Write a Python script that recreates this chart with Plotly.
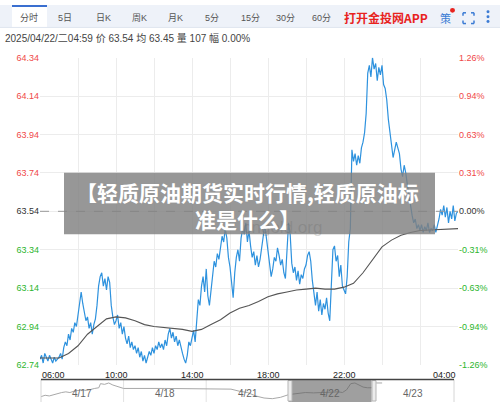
import pandas as pd
import plotly.graph_objects as go

W, H = 500, 407

prev_close = 63.54

# 5-minute prices from 06:00 to 04:00 (one row per hour)
price = [
    62.77, 62.79, 62.75, 62.80, 62.78, 62.76, 62.79, 62.77, 62.75, 62.78, 62.76, 62.77,
    62.78, 62.80, 62.77, 62.83, 62.86, 62.84, 62.90, 62.87, 62.93, 62.91, 62.96, 62.94,
    63.00, 63.08, 63.12, 63.06, 63.02, 62.97, 62.99, 62.93, 62.96, 62.90, 62.95, 62.98,
    63.05, 63.15, 63.20, 63.22, 63.15, 63.19, 63.13, 63.20, 63.17, 63.05, 62.99, 62.95,
    62.97, 63.00, 62.93, 62.96, 62.90, 62.94, 62.88, 62.85, 62.89, 62.83, 62.86, 62.82,
    62.84, 62.80, 62.83, 62.78, 62.81, 62.76, 62.79, 62.75, 62.78, 62.81, 62.79, 62.83,
    62.80, 62.84, 62.82, 62.86, 62.83, 62.85, 62.82, 62.87, 62.84, 62.90, 62.93, 62.88,
    62.91, 62.86, 62.89, 62.84, 62.87, 62.83, 62.80, 62.77, 62.75, 62.79, 62.86, 62.84,
    62.88, 62.92, 62.86, 62.95, 63.08, 63.05, 63.15, 63.20, 63.12, 63.24, 63.10, 63.05,
    63.12, 63.22, 63.28, 63.25, 63.32, 63.29, 63.35, 63.41, 63.38, 63.45, 63.40, 63.30,
    63.25, 63.18, 63.09, 63.22, 63.30, 63.34, 63.28, 63.40, 63.45, 63.42, 63.48, 63.38,
    63.44, 63.36, 63.30, 63.33, 63.26, 63.31, 63.25, 63.29, 63.36, 63.42, 63.47, 63.40,
    63.33, 63.27, 63.20, 63.24, 63.30, 63.28, 63.35, 63.31, 63.26, 63.29, 63.22, 63.19,
    63.35, 63.48, 63.42, 63.27, 63.22, 63.25, 63.18, 63.23, 63.16, 63.21, 63.19, 63.24,
    63.26, 63.31, 63.33, 63.28, 63.18, 63.10, 63.05, 63.12, 63.02, 63.08, 63.00, 63.06,
    63.03, 63.09, 63.01, 62.97, 63.12, 63.34, 63.36, 63.28, 63.31, 63.20, 63.26, 63.15,
    63.13, 63.11, 63.20, 63.38, 63.45, 63.86, 63.80, 63.84, 63.78, 63.83, 63.79, 63.87,
    63.90, 63.95, 64.05, 64.26, 64.30, 64.24, 64.34, 64.28, 64.31, 64.22, 64.29, 64.25,
    64.30, 64.20, 64.18, 64.12, 64.02, 63.95, 63.88, 63.82, 63.86, 63.90, 63.87, 63.84,
    63.76, 63.72, 63.78, 63.74, 63.68, 63.62, 63.58, 63.52, 63.48, 63.50, 63.45, 63.47,
    63.44, 63.47, 63.43, 63.46, 63.44, 63.48, 63.43, 63.45, 63.44, 63.47, 63.43, 63.46,
    63.50, 63.55, 63.52, 63.57, 63.51, 63.56, 63.48, 63.54, 63.50, 63.57, 63.49, 63.53,
    63.54,
]

# 30-minute average price
avg_price = [
    62.776, 62.776, 62.776, 62.80, 62.84, 62.90, 62.94, 62.98, 62.99, 62.985,
    62.97, 62.95, 62.94, 62.935, 62.93, 62.925, 62.915, 62.925, 62.95, 62.975,
    63.01, 63.035, 63.05, 63.07, 63.095, 63.11, 63.12, 63.13, 63.135, 63.14,
    63.135, 63.135, 63.145, 63.165, 63.22, 63.29, 63.355, 63.39, 63.415, 63.43,
    63.44, 63.443, 63.445, 63.447, 63.45,
]

levels = [62.74, 62.94, 63.14, 63.34, 63.54, 63.74, 63.94, 64.14, 64.34]
pct_labels = ["-1.26%", "-0.94%", "-0.63%", "-0.31%", "0.00%",
              "0.31%", "0.63%", "0.94%", "1.26%"]
time_labels = ["06:00", "10:00", "14:00", "18:00", "22:00", "04:00"]
time_hours = [0, 4, 8, 12, 16, 22]

tabs = ["分时", "5日", "日K", "周K", "月K", "5分", "15分", "30分", "60分"]
tab_x = [29, 65, 103, 139, 175, 212, 250, 285, 321]

nav_days = ["4/17", "4/18", "4/21", "4/22", "4/23"]
nav_t = [0.0, 0.05, 0.1, 0.15, 0.2, 0.25, 0.3, 0.35, 0.4, 0.45, 0.5, 0.55, 0.6,
         0.65, 0.7, 0.72, 0.77, 0.82, 0.87, 0.92, 0.97, 1.0, 1.5, 2.0,
         2.1, 2.2, 2.3, 2.4, 2.5, 2.6, 2.7, 2.8, 2.9, 3.0,
         3.1, 3.2, 3.3, 3.4, 3.5, 3.6, 3.65, 3.7, 3.75, 3.8, 3.85, 3.9, 3.95, 4.0,
         4.06, 4.1, 4.13]
nav_v = [62.3, 62.5, 62.4, 62.6, 62.8, 62.9, 63.0, 62.9, 63.1, 63.2, 63.3, 63.2, 63.4,
         63.5, 63.6, 64.2, 64.1, 64.3, 64.0, 63.8, 63.6, 63.5, 63.5, 63.5,
         63.5, 63.5, 63.4, 63.1, 62.9, 62.4, 62.1, 62.0, 62.2, 62.6,
         62.8, 62.9, 62.85, 62.9, 62.95, 63.0, 62.9, 63.3, 64.2, 64.3, 64.0, 63.7, 63.6, 63.6,
         64.3, 64.25, 64.3]

start = pd.Timestamp("2025-04-21 06:00")
end = start + pd.Timedelta(hours=22)
t_price = pd.date_range(start, periods=len(price), freq="5min")
t_avg = pd.date_range(start, periods=len(avg_price), freq="30min")

RED, GREEN, DARK = "#f04848", "#2db52d", "#333333"
FONT = "Liberation Sans, Arial, Noto Sans CJK SC, sans-serif"
CJK = "Noto Sans CJK SC, sans-serif"


def px(x):
    return x / W


def py(y):
    return 1 - y / H


def lvl_color(v):
    if abs(v - prev_close) < 1e-9:
        return DARK
    return RED if v > prev_close else GREEN


def label(text, x, y, size, color, family=FONT, xanchor="center", xref="paper"):
    return dict(text=text, x=x, y=y, xref=xref, yref="paper", xanchor=xanchor, yanchor="middle",
                showarrow=False, font=dict(family=family, size=size, color=color))


left_text = [f'<span style="color:{lvl_color(v)}">{v:.2f}</span>' for v in levels]
right_text = [f'<span style="color:{lvl_color(v)}">{p}</span>' for v, p in zip(levels, pct_labels)]

fig = go.Figure()
fig.add_trace(go.Scatter(x=t_price, y=price, mode="lines",
                         line=dict(color="#2e92de", width=1.2), hoverinfo="skip"))
fig.add_trace(go.Scatter(x=t_avg, y=avg_price, mode="lines",
                         line=dict(color="#555555", width=1.1), hoverinfo="skip"))
fig.add_trace(go.Scatter(x=[start, end], y=[prev_close, prev_close], mode="lines",
                         yaxis="y3", line=dict(color="#999999", width=1, dash="dash"),
                         hoverinfo="skip"))
fig.add_trace(go.Scatter(x=nav_t, y=nav_v, mode="lines", xaxis="x2", yaxis="y2",
                         line=dict(color="#a8a8a8", width=1), hoverinfo="skip"))

shapes = []
# toolbar
shapes.append(dict(type="rect", xref="paper", yref="paper", x0=0, x1=1, y0=py(23), y1=1,
                   fillcolor="#eef2f9", line_width=0, layer="below"))
shapes.append(dict(type="line", xref="paper", yref="paper", x0=0, x1=1, y0=py(23), y1=py(23),
                   line=dict(color="#dfe5ef", width=1)))
shapes.append(dict(type="rect", xref="paper", yref="paper", x0=px(12), x1=px(47), y0=py(23), y1=1,
                   fillcolor="white", line_width=0, layer="below"))
shapes.append(dict(type="line", xref="paper", yref="paper", x0=px(12), x1=px(47), y0=py(1), y1=py(1),
                   line=dict(color="#3a6fd0", width=2)))
shapes.append(dict(type="circle", xref="paper", yref="paper", x0=px(450), x1=px(455), y0=py(8), y1=py(3),
                   fillcolor="#e8231e", line_width=0))
# fullscreen icon corners
for (x0, y0, dx, dy) in [(463, 8, 1, 1), (474, 8, -1, 1), (463, 19, 1, -1), (474, 19, -1, -1)]:
    shapes.append(dict(type="line", xref="paper", yref="paper", x0=px(x0), x1=px(x0 + 3 * dx),
                       y0=py(y0), y1=py(y0), line=dict(color="#3b7bd4", width=1.5)))
    shapes.append(dict(type="line", xref="paper", yref="paper", x0=px(x0), x1=px(x0),
                       y0=py(y0), y1=py(y0 + 3 * dy), line=dict(color="#3b7bd4", width=1.5)))
for yy in [7, 12, 17]:
    shapes.append(dict(type="circle", xref="paper", yref="paper", x0=px(486.5), x1=px(489.5),
                       y0=py(yy + 1.5), y1=py(yy - 1.5), fillcolor="#3b7bd4", line_width=0))
# navigator frame
for d in range(1, 5):
    shapes.append(dict(type="line", xref="x2", yref="paper", x0=d, x1=d, y0=0, y1=py(384),
                       line=dict(color="#e2e2e2", width=1), layer="below"))
for xx in [41, 454]:
    shapes.append(dict(type="line", xref="paper", yref="paper", x0=px(xx), x1=px(xx), y0=0, y1=py(384),
                       line=dict(color="#d6d6d6", width=1)))
shapes.append(dict(type="rect", xref="x2", yref="paper", x0=3, x1=4, y0=0, y1=py(384),
                   fillcolor="rgba(95,95,95,0.6)", line_width=0))
for xx in [290, 374]:
    shapes.append(dict(type="rect", xref="paper", yref="paper", x0=px(xx - 2), x1=px(xx + 2),
                       y0=py(406), y1=py(385), fillcolor="#ececec",
                       line=dict(color="#b5b5b5", width=1)))
shapes.append(dict(type="line", xref="paper", yref="paper", x0=px(41), x1=px(454), y0=py(384), y1=py(384),
                   line=dict(color="#444444", width=1.5)))
# title overlay
shapes.append(dict(type="rect", xref="paper", yref="paper", x0=px(64), x1=px(435), y0=py(235), y1=py(172),
                   fillcolor="rgba(128,128,128,0.82)", line_width=0, layer="above"))

ann = []
for lab, xx in zip(tabs, tab_x):
    ann.append(label(lab, px(xx), py(13), 9, "#555555"))
ann.append(label("<b>打开金投网APP</b>", px(386), py(13), 12, "#e8231e", family=CJK))
ann.append(label("策", px(445), py(13), 11, "#3b7bd4", family=CJK))
ann.append(label("2025/04/22/二04:59 价 63.54 均 63.45 量 107 幅 0.00%", px(3), py(34), 10,
                 "#444444", xanchor="left"))
for lab, hh in zip(time_labels, time_hours):
    anchor = "left" if hh == time_hours[0] else ("right" if hh == time_hours[-1] else "center")
    ann.append(label(lab, start + pd.Timedelta(hours=hh), py(379), 9, "#222222",
                     xanchor=anchor, xref="x"))
for i, lab in enumerate(nav_days):
    ann.append(label(lab, i + 0.5, py(398), 10, "#666666", xref="x2"))
ann.append(label("cngold.org", px(282), py(228), 17, "rgba(90,90,90,0.22)"))
ann.append(label("<b>【轻质原油期货实时行情,轻质原油标<br>准是什么】</b>", px(247), py(206), 21,
                 "white", family=CJK))

fig.update_layout(
    width=W, height=H,
    margin=dict(l=0, r=0, t=0, b=0),
    paper_bgcolor="white", plot_bgcolor="white",
    showlegend=False,
    xaxis=dict(domain=[px(40), px(458)], range=[start, end],
               tickvals=list(pd.date_range(start + pd.Timedelta(hours=2), end - pd.Timedelta(hours=2), freq="2h")),
               showticklabels=False, showgrid=True, gridcolor="#ececec", zeroline=False, ticks=""),
    yaxis=dict(domain=[py(369), py(54)], range=[levels[0], levels[-1]], tickvals=levels,
               ticktext=left_text, tickfont=dict(family=FONT, size=9), showgrid=True,
               gridcolor="#ececec", zeroline=False, ticks=""),
    yaxis3=dict(overlaying="y", side="right", anchor="x", range=[levels[0], levels[-1]],
                tickvals=levels, ticktext=right_text, tickfont=dict(family=FONT, size=9),
                showgrid=False, zeroline=False, ticks=""),
    xaxis2=dict(domain=[px(41), px(454)], range=[0, 5], anchor="y2", visible=False),
    yaxis2=dict(domain=[py(405), py(384)], range=[61.8, 64.8], anchor="x2", visible=False),
    shapes=shapes,
    annotations=ann,
)

# drop the default page margin so the figure sits at the window's corner
fig.write_html("out.html", config={"displayModeBar": False},
               post_script="document.body.style.margin='0';")
